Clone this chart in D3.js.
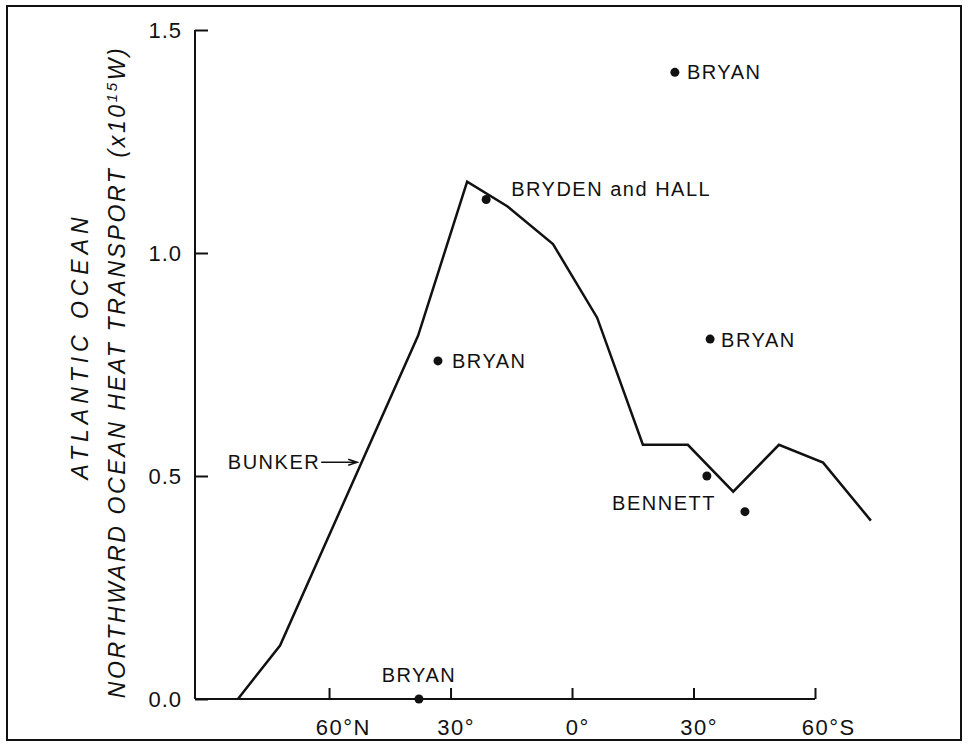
<!DOCTYPE html>
<html>
<head>
<meta charset="utf-8">
<script src="https://cdn.jsdelivr.net/npm/d3@7"></script>
<style>
    body { margin: 0; background: white; }
    svg text { font-family: "Liberation Sans", Arial, sans-serif; fill: #111; }
</style>
</head>
<body>
<svg id="chart" width="969" height="744"></svg>
<script>
//  Bunker curve: latitude (north positive) and transport (x10^15 W)
const bunkerLatitudes = [82.5, 72.1, 38.0, 25.9, 16.0, 4.7, -6.2, -17.5, -28.6, -39.8, -51.1, -62.0, -73.8];
const bunkerTransport = [0, 0.12, 0.815, 1.16, 1.105, 1.02, 0.855, 0.57, 0.57, 0.465, 0.57, 0.53, 0.40];

//  individual estimates
const estimateLatitudes = [-25.4, 21.2, 33.1, -34.1, -33.3, -42.7, 37.8];
const estimateTransport = [1.405, 1.12, 0.758, 0.807, 0.5, 0.42, 0.0];
const estimateLabels = ["BRYAN", "BRYDEN and HALL", "BRYAN", "BRYAN", "", "BENNETT", "BRYAN"];

const yTickValues = [0, 0.5, 1.0, 1.5];
const yTickLabels = ["0.0", "0.5", "1.0", "1.5"];
const xTickValues = [60, 30, 0, -30, -60];
const xTickLabels = ["60°N", "30°", "0°", "30°", "60°S"];

const bunkerArrowAt = {lat: 52.8, value: 0.531};

const chart = {

    svg: null,
    x: null,
    y: null,

    //  label offsets from their dot: dx, dy, anchor
    labelLayout: [
        [12, 0, "start"], [25, -10, "start"], [14, 0, "start"], [11, 1, "start"],
        [0, 0, "start"], [-29, -9, "end"], [0, -24, "middle"]
    ],

    initialize: function () {
        this.svg = d3.select("#chart");
        this.x = d3.scaleLinear().domain([93.1, -60]).range([195, 815]);
        this.y = d3.scaleLinear().domain([0, 1.5]).range([699, 30]);

        this.svg.append("rect").attr("x", 7).attr("y", 6).attr("width", 954).attr("height", 734)
            .attr("fill", "none").attr("stroke", "#111").attr("stroke-width", 2);

        this.drawAxes();
        this.drawBunker();
        this.drawEstimates();
        this.drawTitle();
    },

    drawAxes: function () {
        const yAxis = d3.axisLeft(this.y).tickValues(yTickValues).tickSize(-13)
            .tickFormat((d, i) => yTickLabels[i]);
        const gy = this.svg.append("g").attr("transform", "translate(195,0)").call(yAxis);
        gy.select(".domain").attr("d", "M0,699V30").attr("stroke", "#111").attr("stroke-width", 2);
        gy.selectAll(".tick line").attr("stroke", "#111").attr("stroke-width", 2);
        gy.selectAll(".tick text").attr("x", -13).attr("font-size", 22).attr("letter-spacing", 1)
            .attr("font-family", "Liberation Sans, Arial, sans-serif").attr("fill", "#111");

        const xAxis = d3.axisBottom(this.x).tickValues(xTickValues).tickSize(-11)
            .tickFormat((d, i) => xTickLabels[i]);
        const gx = this.svg.append("g").attr("transform", "translate(0,699)").call(xAxis);
        gx.select(".domain").attr("d", "M195,0H815").attr("stroke", "#111").attr("stroke-width", 2);
        gx.selectAll(".tick line").attr("stroke", "#111").attr("stroke-width", 2);
        gx.selectAll(".tick text").attr("y", 20).attr("dy", "0.71em").attr("font-size", 22)
            .attr("letter-spacing", 1.5).attr("font-family", "Liberation Sans, Arial, sans-serif")
            .attr("fill", "#111").attr("text-anchor", "start")
            .each(function () {
                //  the number is centred on the tick, the degree sign and letter trail it
                const s = this.textContent;
                const nDigits = s.search(/[^0-9]/);
                const w = this.getSubStringLength(0, nDigits);
                d3.select(this).attr("x", -w / 2);
            });
    },

    drawBunker: function () {
        const line = d3.line()
            .x((d, i) => this.x(bunkerLatitudes[i]))
            .y(d => this.y(d));
        this.svg.append("path").datum(bunkerTransport)
            .attr("d", line).attr("fill", "none")
            .attr("stroke", "#111").attr("stroke-width", 2.5).attr("stroke-linejoin", "miter");

        const tx = this.x(bunkerArrowAt.lat), ty = this.y(bunkerArrowAt.value);
        this.svg.append("path")
            .attr("d", `M${tx - 37},${ty}H${tx - 1}M${tx - 10},${ty - 3}L${tx - 1},${ty}L${tx - 10},${ty + 3}`)
            .attr("fill", "none").attr("stroke", "#111").attr("stroke-width", 1.5);
        this.svg.append("text").attr("x", tx - 38).attr("y", ty)
            .attr("dominant-baseline", "central").attr("text-anchor", "end")
            .attr("font-size", 20).attr("letter-spacing", 1.5)
            .text("BUNKER");
    },

    drawEstimates: function () {
        const g = this.svg.append("g");
        g.selectAll("circle").data(estimateTransport).join("circle")
            .attr("cx", (d, i) => this.x(estimateLatitudes[i]))
            .attr("cy", d => this.y(d))
            .attr("r", 4.5).attr("fill", "#111");

        g.selectAll("text").data(estimateLabels).join("text")
            .attr("x", (d, i) => this.x(estimateLatitudes[i]) + this.labelLayout[i][0])
            .attr("y", (d, i) => this.y(estimateTransport[i]) + this.labelLayout[i][1])
            .attr("text-anchor", (d, i) => this.labelLayout[i][2])
            .attr("dominant-baseline", "central")
            .attr("font-size", 20).attr("letter-spacing", 1.5)
            .text(d => d);
    },

    fitSpacing: function (textSel, target) {
        //  spread the letters so the title spans the same length as in the original
        const node = textSel.node();
        const len = node.getComputedTextLength();
        const n = node.textContent.length;
        textSel.attr("letter-spacing", (target - len) / (n - 1));
    },

    drawTitle: function () {
        const t1 = this.svg.append("text")
            .attr("transform", "translate(88,346) rotate(-90)")
            .attr("text-anchor", "middle").attr("font-size", 23).attr("font-style", "italic")
            .text("ATLANTIC OCEAN");
        this.fitSpacing(t1, 262);

        const t2 = this.svg.append("text")
            .attr("transform", "translate(125,372) rotate(-90)")
            .attr("text-anchor", "middle").attr("font-size", 23).attr("font-style", "italic");
        t2.append("tspan").text("NORTHWARD OCEAN HEAT TRANSPORT (x10");
        t2.append("tspan").attr("baseline-shift", "super").attr("font-size", 15).text("15");
        t2.append("tspan").text("W)");
        this.fitSpacing(t2, 650);
    },
}

chart.initialize();
</script>
</body>
</html>
